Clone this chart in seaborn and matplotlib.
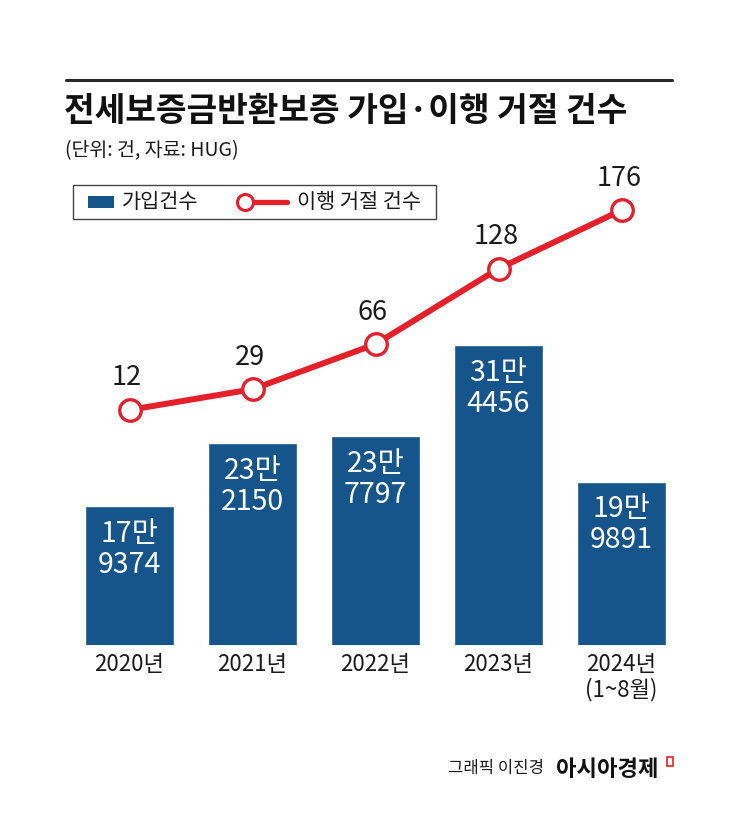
import numpy as np
import pandas as pd
import seaborn as sns
import matplotlib.pyplot as plt
from matplotlib.patches import Rectangle
from matplotlib.lines import Line2D

# data
years = ['2020년', '2021년', '2022년', '2023년', '2024년\n(1~8월)']
signups = [179374, 232150, 237797, 314456, 199891]   # 가입건수
refusals = [12, 29, 66, 128, 176]                     # 이행 거절 건수
legend_labels = ['가입건수', '이행 거절 건수']

BLUE = '#15558b'
RED = '#e5202a'
INK = '#1b1b1b'

sns.set_theme(style='white')
plt.rcParams['font.family'] = ['Noto Sans CJK KR', 'DejaVu Sans']

W, H = 745, 823
fig = plt.figure(figsize=(W / 100, H / 100), dpi=100)

def fx(px):
    return px / W

def fy(py):
    return 1 - py / H

# axes in pixel frame: x 68..683, y 170..645
ax = fig.add_axes([fx(68), fy(645), fx(683) - fx(68), (645 - 170) / H])
df = pd.DataFrame({'year': years, 'signups': signups, 'refusals': refusals})

sns.barplot(data=df, x='year', y='signups', ax=ax, color=BLUE,
            saturation=1, width=0.72)
ax.set_xlim(-0.5, 4.5)
ax.set_ylim(62800, 461300)   # bars start from a cut baseline, as in the original

# bar labels: "17만\n9374"
for i, v in enumerate(signups):
    ax.annotate(f'{v // 10000}만\n{v % 10000}', xy=(i, v), xytext=(0, -9),
                textcoords='offset points', ha='center', va='top',
                color='white', fontsize=20.5, linespacing=1.05)

ax2 = ax.twinx()
sns.lineplot(x=np.arange(len(refusals)), y=refusals, ax=ax2, color=RED,
             linewidth=4.3, marker='o', markersize=15.5,
             markerfacecolor='white', markeredgecolor=RED,
             markeredgewidth=2.4)
ax2.set_ylim(-181, 209)
ax2.set_xlim(-0.5, 4.5)

for i, v in enumerate(refusals):
    ax2.annotate(str(v), xy=(i, v), xytext=(-2, 23), textcoords='offset points',
                 ha='center', va='center', color=INK, fontsize=19.5)

for a in (ax, ax2):
    for s in a.spines.values():
        s.set_visible(False)
    a.set_yticks([])
    a.set_ylabel('')
    a.set_xlabel('')
    a.grid(False)

ax.set_xticks(range(len(years)))
ax.set_xticklabels(years, fontsize=16, color=INK, linespacing=1.05)
ax.tick_params(axis='x', length=0, pad=6)

# header
fig.add_artist(Line2D([fx(66), fx(672)], [fy(80), fy(80)], color='#2a2a2a', linewidth=2.2))
fig.text(fx(64), fy(112), '전세보증금반환보증 가입·이행 거절 건수', ha='left', va='center',
         fontsize=24, fontweight='bold', color='#111111')
fig.text(fx(65), fy(151), '(단위: 건, 자료: HUG)', ha='left', va='center',
         fontsize=14, color=INK)

# legend, drawn by hand so each key keeps its own width like the original
fig.add_artist(Rectangle((fx(73), fy(219)), fx(436 - 73), 34 / H, transform=fig.transFigure,
                         facecolor='white', edgecolor='#444444', linewidth=1.0))
fig.add_artist(Rectangle((fx(88), fy(208)), fx(26), 12 / H, transform=fig.transFigure,
                         facecolor=BLUE, edgecolor='none'))
fig.text(fx(122), fy(202), legend_labels[0], ha='left', va='center', fontsize=15, color=INK)
fig.add_artist(Line2D([fx(245), fx(287)], [fy(202), fy(202)], color=RED, linewidth=3.8,
                      solid_capstyle='round'))
fig.add_artist(Line2D([fx(245)], [fy(202)], marker='o', markersize=11.5, color=RED,
                      markerfacecolor='white', markeredgecolor=RED, markeredgewidth=2.2))
fig.text(fx(297), fy(202), legend_labels[1], ha='left', va='center', fontsize=15, color=INK)

# footer
fig.text(fx(448), fy(769), '그래픽 이진경', ha='left', va='center', fontsize=12, color=INK)
fig.text(fx(556), fy(769), '아시아경제', ha='left', va='center', fontsize=16,
         fontweight='bold', color='#111111')
fig.add_artist(Rectangle((fx(667), fy(766)), fx(6), 9 / H, transform=fig.transFigure,
                         facecolor='white', edgecolor=RED, linewidth=1.2))

fig.savefig('out.png', dpi=100)
